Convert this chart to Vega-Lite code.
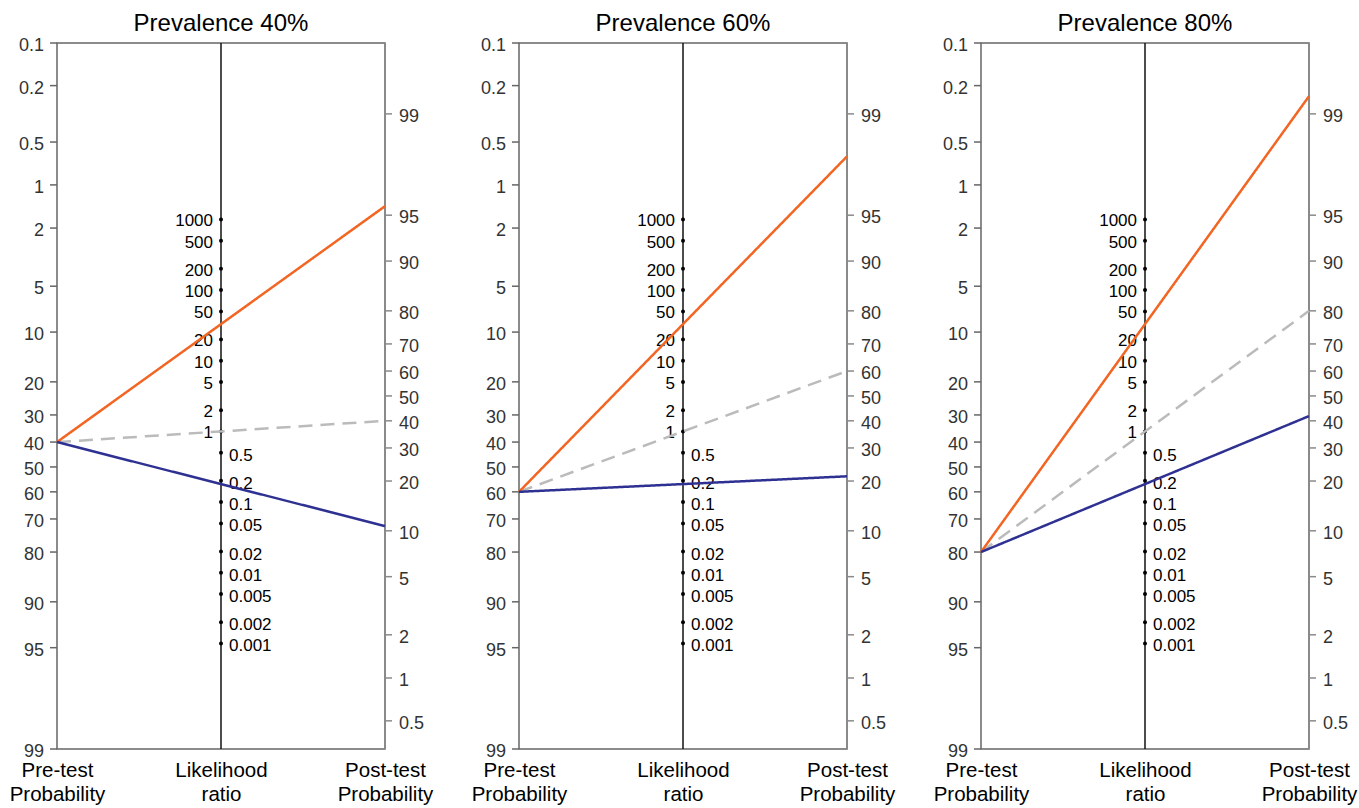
{
  "$schema": "https://vega.github.io/schema/vega-lite/v6.json",
  "padding": {"top": 11, "left": 8, "right": 0, "bottom": 0},
  "background": "white",
  "spacing": 134,
  "bounds": "flush",
  "config": {
    "view": {"stroke": "#666666", "strokeWidth": 1.5},
    "font": "Liberation Sans",
    "title": {"fontSize": 24, "font": "Liberation Sans", "fontWeight": "normal", "color": "#000000", "anchor": "middle", "baseline": "alphabetic", "offset": 1},
    "axisX": {"domain": false, "ticks": false, "grid": false, "labelFontSize": 20.5, "labelFont": "Liberation Sans", "labelColor": "#000000", "labelLineHeight": 24, "labelPadding": 11, "labelAngle": 0, "labelAlign": "center", "labelBaseline": "top", "labelOverlap": false, "labelBound": false, "labelFlush": false, "title": null}
  },
  "datasets": {
    "axes": [{"col": "pre"}, {"col": "lr"}, {"col": "post"}],
    "ticks": [
      {"col": "pre", "p": 0.1}, {"col": "pre", "p": 0.2}, {"col": "pre", "p": 0.5}, {"col": "pre", "p": 1}, {"col": "pre", "p": 2}, {"col": "pre", "p": 5}, {"col": "pre", "p": 10}, {"col": "pre", "p": 20}, {"col": "pre", "p": 30}, {"col": "pre", "p": 40}, {"col": "pre", "p": 50}, {"col": "pre", "p": 60}, {"col": "pre", "p": 70}, {"col": "pre", "p": 80}, {"col": "pre", "p": 90}, {"col": "pre", "p": 95}, {"col": "pre", "p": 99},
      {"col": "post", "p": 99}, {"col": "post", "p": 95}, {"col": "post", "p": 90}, {"col": "post", "p": 80}, {"col": "post", "p": 70}, {"col": "post", "p": 60}, {"col": "post", "p": 50}, {"col": "post", "p": 40}, {"col": "post", "p": 30}, {"col": "post", "p": 20}, {"col": "post", "p": 10}, {"col": "post", "p": 5}, {"col": "post", "p": 2}, {"col": "post", "p": 1}, {"col": "post", "p": 0.5}
    ],
    "lrs": [
      {"col": "lr", "lr": 1000}, {"col": "lr", "lr": 500}, {"col": "lr", "lr": 200}, {"col": "lr", "lr": 100}, {"col": "lr", "lr": 50}, {"col": "lr", "lr": 20}, {"col": "lr", "lr": 10}, {"col": "lr", "lr": 5}, {"col": "lr", "lr": 2}, {"col": "lr", "lr": 1},
      {"col": "lr", "lr": 0.5}, {"col": "lr", "lr": 0.2}, {"col": "lr", "lr": 0.1}, {"col": "lr", "lr": 0.05}, {"col": "lr", "lr": 0.02}, {"col": "lr", "lr": 0.01}, {"col": "lr", "lr": 0.005}, {"col": "lr", "lr": 0.002}, {"col": "lr", "lr": 0.001}
    ],
    "lines": [
      {"prev": 40, "kind": "neutral", "lr": 1, "col": "pre"}, {"prev": 40, "kind": "neutral", "lr": 1, "col": "post"},
      {"prev": 40, "kind": "positive", "lr": 33, "col": "pre"}, {"prev": 40, "kind": "positive", "lr": 33, "col": "post"},
      {"prev": 40, "kind": "negative", "lr": 0.18, "col": "pre"}, {"prev": 40, "kind": "negative", "lr": 0.18, "col": "post"},
      {"prev": 60, "kind": "neutral", "lr": 1, "col": "pre"}, {"prev": 60, "kind": "neutral", "lr": 1, "col": "post"},
      {"prev": 60, "kind": "positive", "lr": 33, "col": "pre"}, {"prev": 60, "kind": "positive", "lr": 33, "col": "post"},
      {"prev": 60, "kind": "negative", "lr": 0.18, "col": "pre"}, {"prev": 60, "kind": "negative", "lr": 0.18, "col": "post"},
      {"prev": 80, "kind": "neutral", "lr": 1, "col": "pre"}, {"prev": 80, "kind": "neutral", "lr": 1, "col": "post"},
      {"prev": 80, "kind": "positive", "lr": 33, "col": "pre"}, {"prev": 80, "kind": "positive", "lr": 33, "col": "post"},
      {"prev": 80, "kind": "negative", "lr": 0.18, "col": "pre"}, {"prev": 80, "kind": "negative", "lr": 0.18, "col": "post"}
    ]
  },
  "hconcat": [
    {
      "width": 328, "height": 706,
      "title": {"text": "Prevalence 40%"},
      "encoding": {
        "x": {"field": "col", "type": "nominal", "scale": {"type": "point", "domain": ["pre", "lr", "post"], "padding": 0},
              "axis": {"labelExpr": "datum.value == 'pre' ? ['Pre-test', 'Probability'] : datum.value == 'lr' ? ['Likelihood', 'ratio'] : ['Post-test', 'Probability']"}}
      },
      "layer": [
        {"data": {"name": "axes"}, "transform": [{"filter": "datum.col == 'lr'"}], "mark": {"type": "rule", "color": "#111111", "strokeWidth": 1.5}, "encoding": {}},
        {"data": {"name": "axes"}, "transform": [{"filter": "datum.col == 'post'"}], "mark": {"type": "rule", "color": "#8a8a8a", "strokeWidth": 1.5}, "encoding": {}},
        {"data": {"name": "ticks"}, "transform": [{"filter": "datum.col == 'pre'"}, {"calculate": "-log(datum.p / (100 - datum.p))", "as": "pos"}],
         "mark": {"type": "tick", "size": 7, "thickness": 1.5, "xOffset": -3.5, "color": "#666666", "opacity": 1},
         "encoding": {"y": {"field": "pos", "type": "quantitative", "scale": {"domain": [-4.5951, 6.9068], "nice": false, "zero": false}, "axis": null}}},
        {"data": {"name": "ticks"}, "transform": [{"filter": "datum.col == 'post'"}, {"calculate": "log(datum.p / (100 - datum.p)) + 1.157", "as": "pos"}],
         "mark": {"type": "tick", "size": 7, "thickness": 1.5, "xOffset": 3.5, "color": "#8a8a8a", "opacity": 1},
         "encoding": {"y": {"field": "pos", "type": "quantitative", "axis": null}}},
        {"data": {"name": "ticks"}, "transform": [{"filter": "datum.col == 'pre'"}, {"calculate": "-log(datum.p / (100 - datum.p))", "as": "pos"}],
         "mark": {"type": "text", "align": "right", "baseline": "middle", "dx": -13, "dy": 3, "fontSize": 18, "color": "#333333"},
         "encoding": {"y": {"field": "pos", "type": "quantitative", "axis": null}, "text": {"field": "p", "type": "quantitative", "format": "~g"}}},
        {"data": {"name": "ticks"}, "transform": [{"filter": "datum.col == 'post'"}, {"calculate": "log(datum.p / (100 - datum.p)) + 1.157", "as": "pos"}],
         "mark": {"type": "text", "align": "left", "baseline": "middle", "dx": 14, "dy": 3, "fontSize": 18, "color": "#333333"},
         "encoding": {"y": {"field": "pos", "type": "quantitative", "axis": null}, "text": {"field": "p", "type": "quantitative", "format": "~g"}}},
        {"data": {"name": "lrs"}, "transform": [{"calculate": "log(datum.lr) / 2 + 0.5785", "as": "pos"}],
         "mark": {"type": "point", "filled": true, "size": 16, "color": "#000000", "opacity": 1},
         "encoding": {"y": {"field": "pos", "type": "quantitative", "axis": null}}},
        {"data": {"name": "lrs"}, "transform": [{"filter": "datum.lr >= 1"}, {"calculate": "log(datum.lr) / 2 + 0.5785", "as": "pos"}],
         "mark": {"type": "text", "align": "right", "baseline": "middle", "dx": -8, "dy": 2, "fontSize": 17, "color": "#000000"},
         "encoding": {"y": {"field": "pos", "type": "quantitative", "axis": null}, "text": {"field": "lr", "type": "quantitative", "format": "~g"}}},
        {"data": {"name": "lrs"}, "transform": [{"filter": "datum.lr < 1"}, {"calculate": "log(datum.lr) / 2 + 0.5785", "as": "pos"}],
         "mark": {"type": "text", "align": "left", "baseline": "middle", "dx": 8, "dy": 3, "fontSize": 17, "color": "#000000"},
         "encoding": {"y": {"field": "pos", "type": "quantitative", "axis": null}, "text": {"field": "lr", "type": "quantitative", "format": "~g"}}},
        {"data": {"name": "lines"}, "transform": [{"filter": "datum.prev == 40"}, {"calculate": "datum.col == 'pre' ? -log(datum.prev / (100 - datum.prev)) : log(datum.prev / (100 - datum.prev)) + log(datum.lr) + 1.157", "as": "pos"}],
         "mark": {"type": "line", "strokeWidth": 2.5},
         "encoding": {"y": {"field": "pos", "type": "quantitative", "axis": null},
                      "color": {"field": "kind", "type": "nominal", "scale": {"domain": ["neutral", "positive", "negative"], "range": ["#bbbbbb", "#f26522", "#2e3192"]}, "legend": null},
                      "strokeDash": {"field": "kind", "type": "nominal", "scale": {"domain": ["neutral", "positive", "negative"], "range": [[14, 8], [1, 0], [1, 0]]}, "legend": null}}}
      ]
    },
    {
      "width": 328, "height": 706,
      "title": {"text": "Prevalence 60%"},
      "encoding": {
        "x": {"field": "col", "type": "nominal", "scale": {"type": "point", "domain": ["pre", "lr", "post"], "padding": 0},
              "axis": {"labelExpr": "datum.value == 'pre' ? ['Pre-test', 'Probability'] : datum.value == 'lr' ? ['Likelihood', 'ratio'] : ['Post-test', 'Probability']"}}
      },
      "layer": [
        {"data": {"name": "axes"}, "transform": [{"filter": "datum.col == 'lr'"}], "mark": {"type": "rule", "color": "#111111", "strokeWidth": 1.5}, "encoding": {}},
        {"data": {"name": "axes"}, "transform": [{"filter": "datum.col == 'post'"}], "mark": {"type": "rule", "color": "#8a8a8a", "strokeWidth": 1.5}, "encoding": {}},
        {"data": {"name": "ticks"}, "transform": [{"filter": "datum.col == 'pre'"}, {"calculate": "-log(datum.p / (100 - datum.p))", "as": "pos"}],
         "mark": {"type": "tick", "size": 7, "thickness": 1.5, "xOffset": -3.5, "color": "#666666", "opacity": 1},
         "encoding": {"y": {"field": "pos", "type": "quantitative", "scale": {"domain": [-4.5951, 6.9068], "nice": false, "zero": false}, "axis": null}}},
        {"data": {"name": "ticks"}, "transform": [{"filter": "datum.col == 'post'"}, {"calculate": "log(datum.p / (100 - datum.p)) + 1.157", "as": "pos"}],
         "mark": {"type": "tick", "size": 7, "thickness": 1.5, "xOffset": 3.5, "color": "#8a8a8a", "opacity": 1},
         "encoding": {"y": {"field": "pos", "type": "quantitative", "axis": null}}},
        {"data": {"name": "ticks"}, "transform": [{"filter": "datum.col == 'pre'"}, {"calculate": "-log(datum.p / (100 - datum.p))", "as": "pos"}],
         "mark": {"type": "text", "align": "right", "baseline": "middle", "dx": -13, "dy": 3, "fontSize": 18, "color": "#333333"},
         "encoding": {"y": {"field": "pos", "type": "quantitative", "axis": null}, "text": {"field": "p", "type": "quantitative", "format": "~g"}}},
        {"data": {"name": "ticks"}, "transform": [{"filter": "datum.col == 'post'"}, {"calculate": "log(datum.p / (100 - datum.p)) + 1.157", "as": "pos"}],
         "mark": {"type": "text", "align": "left", "baseline": "middle", "dx": 14, "dy": 3, "fontSize": 18, "color": "#333333"},
         "encoding": {"y": {"field": "pos", "type": "quantitative", "axis": null}, "text": {"field": "p", "type": "quantitative", "format": "~g"}}},
        {"data": {"name": "lrs"}, "transform": [{"calculate": "log(datum.lr) / 2 + 0.5785", "as": "pos"}],
         "mark": {"type": "point", "filled": true, "size": 16, "color": "#000000", "opacity": 1},
         "encoding": {"y": {"field": "pos", "type": "quantitative", "axis": null}}},
        {"data": {"name": "lrs"}, "transform": [{"filter": "datum.lr >= 1"}, {"calculate": "log(datum.lr) / 2 + 0.5785", "as": "pos"}],
         "mark": {"type": "text", "align": "right", "baseline": "middle", "dx": -8, "dy": 2, "fontSize": 17, "color": "#000000"},
         "encoding": {"y": {"field": "pos", "type": "quantitative", "axis": null}, "text": {"field": "lr", "type": "quantitative", "format": "~g"}}},
        {"data": {"name": "lrs"}, "transform": [{"filter": "datum.lr < 1"}, {"calculate": "log(datum.lr) / 2 + 0.5785", "as": "pos"}],
         "mark": {"type": "text", "align": "left", "baseline": "middle", "dx": 8, "dy": 3, "fontSize": 17, "color": "#000000"},
         "encoding": {"y": {"field": "pos", "type": "quantitative", "axis": null}, "text": {"field": "lr", "type": "quantitative", "format": "~g"}}},
        {"data": {"name": "lines"}, "transform": [{"filter": "datum.prev == 60"}, {"calculate": "datum.col == 'pre' ? -log(datum.prev / (100 - datum.prev)) : log(datum.prev / (100 - datum.prev)) + log(datum.lr) + 1.157", "as": "pos"}],
         "mark": {"type": "line", "strokeWidth": 2.5},
         "encoding": {"y": {"field": "pos", "type": "quantitative", "axis": null},
                      "color": {"field": "kind", "type": "nominal", "scale": {"domain": ["neutral", "positive", "negative"], "range": ["#bbbbbb", "#f26522", "#2e3192"]}, "legend": null},
                      "strokeDash": {"field": "kind", "type": "nominal", "scale": {"domain": ["neutral", "positive", "negative"], "range": [[14, 8], [1, 0], [1, 0]]}, "legend": null}}}
      ]
    },
    {
      "width": 328, "height": 706,
      "title": {"text": "Prevalence 80%"},
      "encoding": {
        "x": {"field": "col", "type": "nominal", "scale": {"type": "point", "domain": ["pre", "lr", "post"], "padding": 0},
              "axis": {"labelExpr": "datum.value == 'pre' ? ['Pre-test', 'Probability'] : datum.value == 'lr' ? ['Likelihood', 'ratio'] : ['Post-test', 'Probability']"}}
      },
      "layer": [
        {"data": {"name": "axes"}, "transform": [{"filter": "datum.col == 'lr'"}], "mark": {"type": "rule", "color": "#111111", "strokeWidth": 1.5}, "encoding": {}},
        {"data": {"name": "axes"}, "transform": [{"filter": "datum.col == 'post'"}], "mark": {"type": "rule", "color": "#8a8a8a", "strokeWidth": 1.5}, "encoding": {}},
        {"data": {"name": "ticks"}, "transform": [{"filter": "datum.col == 'pre'"}, {"calculate": "-log(datum.p / (100 - datum.p))", "as": "pos"}],
         "mark": {"type": "tick", "size": 7, "thickness": 1.5, "xOffset": -3.5, "color": "#666666", "opacity": 1},
         "encoding": {"y": {"field": "pos", "type": "quantitative", "scale": {"domain": [-4.5951, 6.9068], "nice": false, "zero": false}, "axis": null}}},
        {"data": {"name": "ticks"}, "transform": [{"filter": "datum.col == 'post'"}, {"calculate": "log(datum.p / (100 - datum.p)) + 1.157", "as": "pos"}],
         "mark": {"type": "tick", "size": 7, "thickness": 1.5, "xOffset": 3.5, "color": "#8a8a8a", "opacity": 1},
         "encoding": {"y": {"field": "pos", "type": "quantitative", "axis": null}}},
        {"data": {"name": "ticks"}, "transform": [{"filter": "datum.col == 'pre'"}, {"calculate": "-log(datum.p / (100 - datum.p))", "as": "pos"}],
         "mark": {"type": "text", "align": "right", "baseline": "middle", "dx": -13, "dy": 3, "fontSize": 18, "color": "#333333"},
         "encoding": {"y": {"field": "pos", "type": "quantitative", "axis": null}, "text": {"field": "p", "type": "quantitative", "format": "~g"}}},
        {"data": {"name": "ticks"}, "transform": [{"filter": "datum.col == 'post'"}, {"calculate": "log(datum.p / (100 - datum.p)) + 1.157", "as": "pos"}],
         "mark": {"type": "text", "align": "left", "baseline": "middle", "dx": 14, "dy": 3, "fontSize": 18, "color": "#333333"},
         "encoding": {"y": {"field": "pos", "type": "quantitative", "axis": null}, "text": {"field": "p", "type": "quantitative", "format": "~g"}}},
        {"data": {"name": "lrs"}, "transform": [{"calculate": "log(datum.lr) / 2 + 0.5785", "as": "pos"}],
         "mark": {"type": "point", "filled": true, "size": 16, "color": "#000000", "opacity": 1},
         "encoding": {"y": {"field": "pos", "type": "quantitative", "axis": null}}},
        {"data": {"name": "lrs"}, "transform": [{"filter": "datum.lr >= 1"}, {"calculate": "log(datum.lr) / 2 + 0.5785", "as": "pos"}],
         "mark": {"type": "text", "align": "right", "baseline": "middle", "dx": -8, "dy": 2, "fontSize": 17, "color": "#000000"},
         "encoding": {"y": {"field": "pos", "type": "quantitative", "axis": null}, "text": {"field": "lr", "type": "quantitative", "format": "~g"}}},
        {"data": {"name": "lrs"}, "transform": [{"filter": "datum.lr < 1"}, {"calculate": "log(datum.lr) / 2 + 0.5785", "as": "pos"}],
         "mark": {"type": "text", "align": "left", "baseline": "middle", "dx": 8, "dy": 3, "fontSize": 17, "color": "#000000"},
         "encoding": {"y": {"field": "pos", "type": "quantitative", "axis": null}, "text": {"field": "lr", "type": "quantitative", "format": "~g"}}},
        {"data": {"name": "lines"}, "transform": [{"filter": "datum.prev == 80"}, {"calculate": "datum.col == 'pre' ? -log(datum.prev / (100 - datum.prev)) : log(datum.prev / (100 - datum.prev)) + log(datum.lr) + 1.157", "as": "pos"}],
         "mark": {"type": "line", "strokeWidth": 2.5},
         "encoding": {"y": {"field": "pos", "type": "quantitative", "axis": null},
                      "color": {"field": "kind", "type": "nominal", "scale": {"domain": ["neutral", "positive", "negative"], "range": ["#bbbbbb", "#f26522", "#2e3192"]}, "legend": null},
                      "strokeDash": {"field": "kind", "type": "nominal", "scale": {"domain": ["neutral", "positive", "negative"], "range": [[14, 8], [1, 0], [1, 0]]}, "legend": null}}}
      ]
    }
  ]
}
